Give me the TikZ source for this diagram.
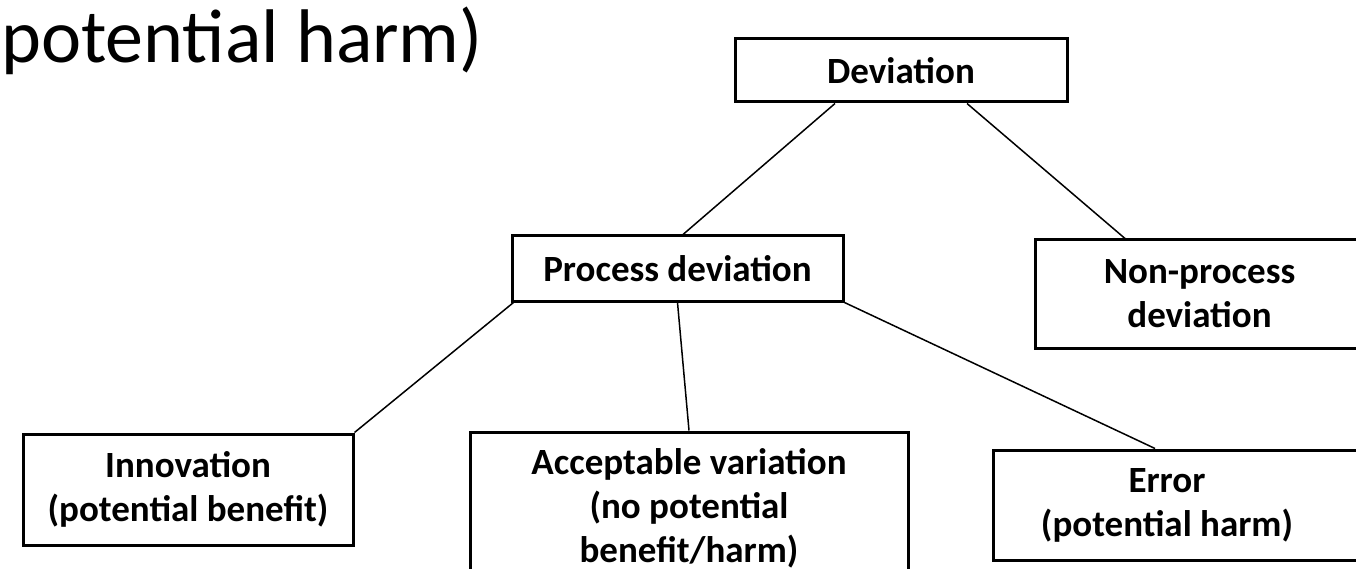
\documentclass[tikz,border=0pt]{standalone}
\usepackage{fontspec}
\setmainfont{Carlito}
\begin{document}
\begin{tikzpicture}[x=1pt,y=-1pt,
  box/.style={draw,line width=3pt,inner sep=0pt,align=center,font=\fontsize{37}{44}\selectfont\bfseries},
  lbl/.style={inner sep=0pt,align=center,font=\fontsize{37}{44}\selectfont\bfseries},
  link/.style={line width=1.5pt}]
\useasboundingbox (0,0) rectangle (1356,569);
\clip (0,0) rectangle (1356,569);
\node[anchor=base west,inner sep=0pt,font=\fontsize{76}{90}\selectfont] (title) at (1,63) {potential harm)};
\node[box,minimum width=332pt,minimum height=63pt] (dev) at (901,70.5) {Deviation};
\node[box,minimum width=331pt,minimum height=65pt] (proc) at (677.5,268.5) {Process deviation};
\node[box,minimum width=329pt,minimum height=108pt] (non) at (1199.5,294) {Non-process\\deviation};
\node[box,minimum width=330pt,minimum height=111pt] (inn) at (188,489.5) {Innovation\\(potential benefit)};
\node[box,minimum width=438pt,minimum height=152pt] (acc) at (689,508) {Acceptable variation\\(no potential\\benefit/harm)};
\node[box,minimum width=369pt,minimum height=110pt] (err) at (1177.5,505) {};
\node[lbl] (errlabel) at (1167,505) {Error\\(potential harm)};
\draw[link] ([xshift=-66pt]dev.south) -- ([xshift=5.5pt]proc.north);
\draw[link] ([xshift=66pt]dev.south) -- ([xshift=-74.5pt]non.north);
\draw[link] ([xshift=3pt]proc.south west) -- (inn.north east);
\draw[link] (proc.south) -- (acc.north);
\draw[link] (proc.south east) -- ([xshift=-22.5pt]err.north);
\end{tikzpicture}
\end{document}
